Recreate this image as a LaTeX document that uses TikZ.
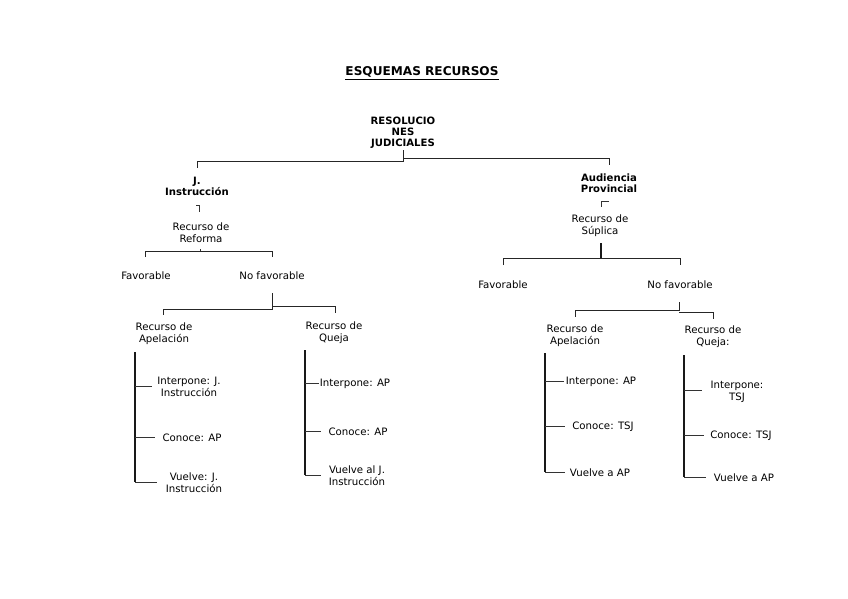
\documentclass[tikz,border=0pt]{standalone}
\usepackage{fontspec}
\setmainfont{DejaVu Sans}
\begin{document}
\begin{tikzpicture}[x=1pt,y=-1pt,
  txt/.style={align=center,inner sep=1pt,yshift=-1pt,font=\fontsize{10.2}{11.8}\selectfont},
  btxt/.style={align=center,inner sep=1pt,yshift=-1pt,font=\fontsize{10.1}{10.8}\selectfont\bfseries},
  conn/.style={line width=1pt,color=black!85},
  spine/.style={line width=1.6pt,color=black!90},
  tick/.style={line width=0.8pt,color=black!80}]
\useasboundingbox (0,0) rectangle (848,599);
% title
\node[inner sep=0pt,font=\fontsize{12.1}{14}\selectfont\bfseries] (title) at (422,73) {\underline{ESQUEMAS RECURSOS}};
% top
\node[btxt] (root) at (403,132) {RESOLUCIO\\NES\\JUDICIALES};
\node[btxt] (ji) at (197,185.5) {J.\\Instrucción};
\node[btxt] (ap) at (609,182.5) {Audiencia\\Provincial};
\draw[conn] (403,150) -- (403,161) -- (197,161) -- (197,168);
\draw[conn] (403,158) -- (609,158) -- (609,165);
% left branch
\draw[tick] (196,205) -- (199,205) -- (199,212);
\node[txt] (rref) at (201,232) {Recurso de\\Reforma};
\draw[tick] (200,249) -- (200,252);
\draw[conn] (145,257) -- (145,251) -- (272,251) -- (272,257);
\node[txt] (fav1) at (146,275) {Favorable};
\node[txt] (nofav1) at (272,275) {No favorable};
\draw[conn] (272,293) -- (272,309) -- (163,309) -- (163,315);
\draw[conn] (272,306) -- (335,306) -- (335,313);
\node[txt] (ape1) at (164,333) {Recurso de\\Apelación};
\node[txt] (que1) at (334,332) {Recurso de\\Queja};
% apelacion 1
\draw[spine] (135,352) -- (135,482);
\draw[tick] (135,386) -- (152,386);
\draw[tick] (135,437) -- (155,437);
\draw[tick] (135,482) -- (157,482);
\node[txt] (a1i) at (189,386) {Interpone: J.\\Instrucción};
\node[txt] (a1c) at (192,437) {Conoce: AP};
\node[txt] (a1v) at (194,482) {Vuelve: J.\\Instrucción};
% queja 1
\draw[spine] (305,350) -- (305,475);
\draw[tick] (305,383) -- (319,383);
\draw[tick] (305,431) -- (321,431);
\draw[tick] (305,475) -- (321,475);
\node[txt] (q1i) at (355,383) {Interpone: AP};
\node[txt] (q1c) at (358,431) {Conoce: AP};
\node[txt] (q1v) at (357,475) {Vuelve al J.\\Instrucción};
% right branch
\draw[tick] (609,201) -- (601,201) -- (601,207);
\node[txt] (rsup) at (600,225) {Recurso de\\Súplica};
\draw[line width=1.6pt,color=black!90] (601,243) -- (601,258);
\draw[conn] (503,265) -- (503,258) -- (680,258) -- (680,265);
\node[txt] (fav2) at (503,284) {Favorable};
\node[txt] (nofav2) at (680,284) {No favorable};
\draw[conn] (679,302) -- (679,310) -- (575,310) -- (575,317);
\draw[conn] (679,312) -- (713,312) -- (713,319);
\node[txt] (ape2) at (575,335) {Recurso de\\Apelación};
\node[txt] (que2) at (713,336) {Recurso de\\Queja:};
% apelacion 2
\draw[spine] (545,353) -- (545,472);
\draw[tick] (545,381) -- (564,381);
\draw[tick] (545,426) -- (565,426);
\draw[tick] (545,472) -- (565,472);
\node[txt] (a2i) at (601,381) {Interpone: AP};
\node[txt] (a2c) at (603,426) {Conoce: TSJ};
\node[txt] (a2v) at (600,472) {Vuelve a AP};
% queja 2
\draw[spine] (684,355) -- (684,477);
\draw[tick] (684,390) -- (702,390);
\draw[tick] (684,435) -- (704,435);
\draw[tick] (684,477) -- (706,477);
\node[txt] (q2i) at (737,391) {Interpone:\\TSJ};
\node[txt] (q2c) at (741,435) {Conoce: TSJ};
\node[txt] (q2v) at (744,477) {Vuelve a AP};
\end{tikzpicture}
\end{document}
